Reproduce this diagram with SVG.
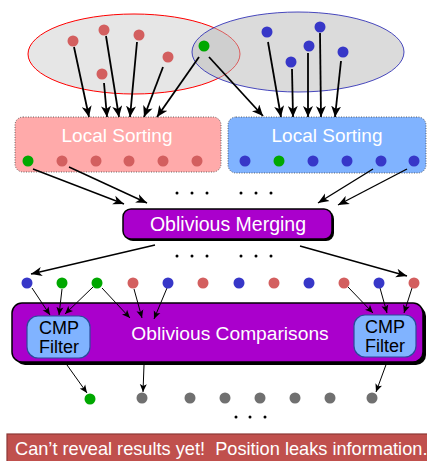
<svg xmlns="http://www.w3.org/2000/svg" width="427" height="461" viewBox="0 0 427 461">
  <defs>
    <style>
      .lbl { font-family: "Liberation Sans", Arial, sans-serif; fill: #ffffff; text-anchor: middle; }
      .cmp { font-family: "Liberation Sans", Arial, sans-serif; fill: #000000; text-anchor: middle; font-size: 18px; }
      .red { fill: #d35f5f; }
      .blu { fill: #3737c8; }
      .grn { fill: #00a800; }
      .gry { fill: #707070; }
      .dot { fill: #000000; }
      .ar-big { stroke: #000; stroke-width: 1.8; fill: none; marker-end: url(#headBig); }
      .ar-mid { stroke: #000; stroke-width: 1.4; fill: none; marker-end: url(#headMid); }
      .ar-sm { stroke: #000; stroke-width: 1; fill: none; marker-end: url(#headSm); }
      .purple { fill: #aa00cc; stroke: #000; stroke-width: 1.5; }
      .shadow { fill: #000; }
      .cmpbox { fill: #80b3ff; stroke: #2c4a9c; stroke-width: 1.2; }
    </style>
    <marker id="headBig" markerUnits="userSpaceOnUse" markerWidth="12" markerHeight="10" refX="11" refY="5" orient="auto">
      <path d="M0,0 L11,5 L0,10 L3,5 z" fill="#000"/>
    </marker>
    <marker id="headMid" markerUnits="userSpaceOnUse" markerWidth="12" markerHeight="10" refX="11" refY="5" orient="auto">
      <path d="M0,0.5 L11,5 L0,9.5 L3,5 z" fill="#000"/>
    </marker>
    <marker id="headSm" markerUnits="userSpaceOnUse" markerWidth="9" markerHeight="8" refX="8" refY="4" orient="auto">
      <path d="M0,0.5 L8,4 L0,7.5 L2,4 z" fill="#000"/>
    </marker>
  </defs>

  <!-- input sets -->
  <g id="set-red">
    <ellipse cx="134" cy="54" rx="106" ry="40" fill="#e6e6e6" stroke="#ff0000" stroke-width="1"/>
  </g>
  <g id="set-blue">
    <ellipse cx="298" cy="52" rx="106" ry="40" fill="#b8b8b8" fill-opacity="0.5" stroke="#2a2ab4" stroke-opacity="0.85" stroke-width="1"/>
  </g>

  <!-- local sorting boxes -->
  <g id="sort-left">
    <rect x="15" y="117" width="206" height="55" rx="8" fill="#ffaaaa" stroke="#444" stroke-width="0.8" stroke-dasharray="1,1.5"/>
    <text class="lbl" x="117" y="142" font-size="19">Local Sorting</text>
  </g>
  <g id="sort-right">
    <rect x="228" y="117" width="198" height="56" rx="8" fill="#80b3ff" stroke="#444" stroke-width="0.8" stroke-dasharray="1,1.5"/>
    <text class="lbl" x="327" y="142" font-size="19">Local Sorting</text>
  </g>

  <!-- merging -->
  <g id="merge">
    <rect class="shadow" x="125" y="211" width="209" height="30" rx="8"/>
    <rect class="purple" x="123" y="209" width="209" height="30" rx="8"/>
    <text class="lbl" x="228" y="231" font-size="19.5">Oblivious Merging</text>
  </g>

  <!-- comparisons -->
  <g id="compare">
    <rect class="shadow" x="15" y="306" width="411" height="59" rx="10"/>
    <rect class="purple" x="12" y="303" width="411" height="59" rx="10"/>
    <text class="lbl" x="230" y="340" font-size="19.2">Oblivious Comparisons</text>
  </g>
  <g id="cmp-left">
    <rect class="cmpbox" x="27" y="316" width="63" height="42" rx="11"/>
    <text class="cmp" x="59" y="334">CMP</text>
    <text class="cmp" x="59" y="353">Filter</text>
  </g>
  <g id="cmp-right">
    <rect class="cmpbox" x="354" y="315" width="62" height="42" rx="11"/>
    <text class="cmp" x="385" y="333">CMP</text>
    <text class="cmp" x="385" y="352">Filter</text>
  </g>

  <!-- banner -->
  <g id="banner">
    <rect x="7" y="434" width="430" height="40" fill="#c0504d" stroke="#8c3836" stroke-width="1.2"/>
    <text x="15" y="455" font-family="Liberation Sans, Arial, sans-serif" font-size="18.2" fill="#ffffff" xml:space="preserve">Can’t reveal results yet!  Position leaks information.</text>
  </g>

  <!-- connectors -->
  <g id="connectors">
    <!-- sets to local sorting -->
    <line class="ar-big" x1="74" y1="47" x2="89" y2="117"/>
    <line class="ar-big" x1="106" y1="36" x2="119" y2="117"/>
    <line class="ar-big" x1="137" y1="42" x2="130" y2="117"/>
    <line class="ar-big" x1="104" y1="83" x2="107" y2="117"/>
    <line class="ar-big" x1="163" y1="67" x2="144" y2="117"/>
    <line class="ar-big" x1="199" y1="57" x2="157" y2="117"/>
    <line class="ar-big" x1="209" y1="57" x2="263" y2="116"/>
    <line class="ar-big" x1="268" y1="42" x2="281" y2="117"/>
    <line class="ar-big" x1="292" y1="69" x2="293" y2="117"/>
    <line class="ar-big" x1="308" y1="53" x2="308" y2="117"/>
    <line class="ar-big" x1="320" y1="33" x2="321" y2="117"/>
    <line class="ar-big" x1="341" y1="61" x2="335" y2="117"/>
    <!-- local sorting to merging -->
    <line class="ar-mid" x1="33" y1="169" x2="124" y2="204"/>
    <line class="ar-mid" x1="69" y1="167" x2="147" y2="203"/>
    <line class="ar-mid" x1="373" y1="169" x2="318" y2="203"/>
    <line class="ar-mid" x1="407" y1="169" x2="338" y2="205"/>
    <!-- merging to row -->
    <line class="ar-mid" x1="155" y1="245" x2="31" y2="274"/>
    <line class="ar-mid" x1="300" y1="246" x2="407" y2="276"/>
    <!-- row to comparisons -->
    <line class="ar-sm" x1="32" y1="288" x2="50" y2="315"/>
    <line class="ar-sm" x1="62" y1="289" x2="59" y2="315"/>
    <line class="ar-sm" x1="93" y1="287" x2="65" y2="314"/>
    <line class="ar-sm" x1="102" y1="288" x2="130" y2="318"/>
    <line class="ar-sm" x1="134" y1="289" x2="142" y2="318"/>
    <line class="ar-sm" x1="167" y1="288" x2="154" y2="319"/>
    <line class="ar-sm" x1="348" y1="287" x2="373" y2="313"/>
    <line class="ar-sm" x1="380" y1="288" x2="387" y2="313"/>
    <line class="ar-sm" x1="412" y1="288" x2="404" y2="313"/>
    <!-- comparisons to output -->
    <line class="ar-sm" x1="67" y1="365" x2="87" y2="393"/>
    <line class="ar-sm" x1="144" y1="365" x2="143" y2="392"/>
    <line class="ar-sm" x1="387" y1="362" x2="376" y2="392"/>
  </g>

  <!-- set elements -->
  <g id="set-points">
    <circle class="red" cx="73" cy="41" r="5.5"/>
    <circle class="red" cx="104" cy="30" r="5.5"/>
    <circle class="red" cx="139" cy="35" r="5.5"/>
    <circle class="red" cx="168" cy="57" r="5.5"/>
    <circle class="red" cx="102" cy="74" r="5.5"/>
    <circle class="grn" cx="204" cy="46" r="5.5"/>
    <circle class="blu" cx="267" cy="32" r="5.5"/>
    <circle class="blu" cx="320" cy="27" r="5.5"/>
    <circle class="blu" cx="309" cy="46" r="5.5"/>
    <circle class="blu" cx="291" cy="62" r="5.5"/>
    <circle class="blu" cx="343" cy="52" r="5.5"/>
  </g>

  <!-- sorted elements -->
  <g id="sorted-points">
    <circle class="grn" cx="28" cy="161" r="5.5"/>
    <circle class="red" cx="62" cy="161" r="5.5"/>
    <circle class="red" cx="96" cy="161" r="5.5"/>
    <circle class="red" cx="129" cy="161" r="5.5"/>
    <circle class="red" cx="163" cy="161" r="5.5"/>
    <circle class="red" cx="197" cy="161" r="5.5"/>
    <circle class="blu" cx="245" cy="161" r="5.5"/>
    <circle class="grn" cx="279" cy="161" r="5.5"/>
    <circle class="blu" cx="313" cy="161" r="5.5"/>
    <circle class="blu" cx="347" cy="161" r="5.5"/>
    <circle class="blu" cx="381" cy="161" r="5.5"/>
    <circle class="blu" cx="414" cy="161" r="5.5"/>
  </g>

  <!-- merged row -->
  <g id="merged-points">
    <circle class="blu" cx="27" cy="283" r="5.5"/>
    <circle class="grn" cx="62" cy="283" r="5.5"/>
    <circle class="grn" cx="97" cy="283" r="5.5"/>
    <circle class="red" cx="133" cy="283" r="5.5"/>
    <circle class="blu" cx="168" cy="283" r="5.5"/>
    <circle class="red" cx="203" cy="283" r="5.5"/>
    <circle class="blu" cx="239" cy="283" r="5.5"/>
    <circle class="red" cx="274" cy="283" r="5.5"/>
    <circle class="blu" cx="309" cy="283" r="5.5"/>
    <circle class="red" cx="344" cy="283" r="5.5"/>
    <circle class="blu" cx="379" cy="283" r="5.5"/>
    <circle class="red" cx="414" cy="283" r="5.5"/>
  </g>

  <!-- output row -->
  <g id="output-points">
    <circle class="grn" cx="90" cy="399" r="5.5"/>
    <circle class="gry" cx="142" cy="398" r="5.5"/>
    <circle class="gry" cx="190" cy="398" r="5.5"/>
    <circle class="gry" cx="225" cy="398" r="5.5"/>
    <circle class="gry" cx="260" cy="398" r="5.5"/>
    <circle class="gry" cx="295" cy="398" r="5.5"/>
    <circle class="gry" cx="330" cy="398" r="5.5"/>
    <circle class="gry" cx="372" cy="398" r="5.5"/>
  </g>

  <!-- ellipsis marks -->
  <g id="ellipses">
    <circle class="dot" cx="177" cy="193" r="1.5"/>
    <circle class="dot" cx="192" cy="193" r="1.5"/>
    <circle class="dot" cx="207" cy="193" r="1.5"/>
    <circle class="dot" cx="241" cy="193" r="1.5"/>
    <circle class="dot" cx="256" cy="193" r="1.5"/>
    <circle class="dot" cx="271" cy="193" r="1.5"/>
    <circle class="dot" cx="177" cy="256" r="1.5"/>
    <circle class="dot" cx="192" cy="256" r="1.5"/>
    <circle class="dot" cx="207" cy="256" r="1.5"/>
    <circle class="dot" cx="241" cy="256" r="1.5"/>
    <circle class="dot" cx="256" cy="256" r="1.5"/>
    <circle class="dot" cx="271" cy="256" r="1.5"/>
    <circle class="dot" cx="236" cy="417" r="1.5"/>
    <circle class="dot" cx="250" cy="417" r="1.5"/>
    <circle class="dot" cx="265" cy="417" r="1.5"/>
  </g>
</svg>
